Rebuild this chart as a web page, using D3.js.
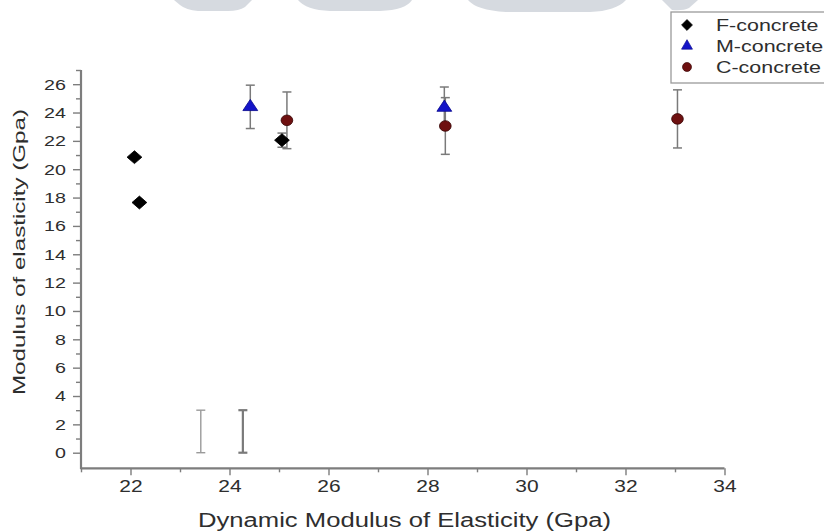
<!DOCTYPE html>
<html>
<head>
<meta charset="utf-8">
<script src="https://cdn.jsdelivr.net/npm/d3@7"></script>
<style>
  html, body { margin: 0; padding: 0; background: #fff; }
  svg { display: block; }
  text { font-family: "Liberation Sans", Arial, sans-serif; fill: #2e2e2e; }
</style>
</head>
<body>
<svg id="chart" width="824" height="531"></svg>
<script>
// ---------------- data ----------------
const seriesNames = ["F-concrete", "M-concrete", "C-concrete"];
const fX = [22.08, 22.18, 25.06];
const fY = [20.85, 17.65, 22.05];
const fErr = [0, 0, 0.5];
const mX = [24.42, 28.34];
const mY = [24.4, 24.35];
const mErr = [1.53, 1.45];
const cX = [25.16, 28.36, 33.05];
const cY = [23.45, 23.05, 23.55];
const cErr = [2.0, 2.0, 2.05];
// error bars drawn without a marker (as in the source figure)
const strayX = [23.42, 24.27];
const strayY = [1.5, 1.5];
const strayErr = [1.5, 1.5];
const xMajorTicks = [22, 24, 26, 28, 30, 32, 34];
const xMinorTicks = [21, 23, 25, 27, 29, 31, 33];
const yMajorTicks = [0, 2, 4, 6, 8, 10, 12, 14, 16, 18, 20, 22, 24, 26];
const yMinorTicks = [1, 3, 5, 7, 9, 11, 13, 15, 17, 19, 21, 23, 25, 27];
const xTitle = "Dynamic Modulus of Elasticity (Gpa)";
const yTitle = "Modulus of elasticity (Gpa)";

// ---------------- layout ----------------
const svg = d3.select("#chart");
const axisColor = "#7d7d7d";
const errColor = "#7a7a7a";
const colors = { F: "#000000", M: "#1414c8", C: "#6e1010" };
const stretch = 1.27;

const x = d3.scaleLinear().domain([21, 34]).range([81, 724.5]);
const y = d3.scaleLinear().domain([-1.1, 27]).range([468.3, 70]);

// faint watermark remnants at the top edge
const wm = svg.append("g").attr("fill", "#d6dae0");
wm.append("path").attr("d", "M174,0 L252,0 L245,7 Q239,11 228,11 L198,11 Q186,10 180,5 Z");
wm.append("path").attr("d", "M298,0 L412,0 Q406,10 380,11 L330,11 Q306,10 298,0 Z");
wm.append("path").attr("d", "M468,0 L626,0 Q616,11 590,12 L506,12 Q476,10 468,0 Z");
wm.append("path").attr("d", "M662,0 L698,0 L689,8 Q683,11 672,10 Z");

// ---------------- axes ----------------
const xAxisMajor = d3.axisBottom(x).tickValues(xMajorTicks).tickSize(7).tickFormat(d3.format("d")).tickPadding(4);
const xAxisMinor = d3.axisBottom(x).tickValues(xMinorTicks).tickSize(4).tickFormat("");
const yAxisMajor = d3.axisLeft(y).tickValues(yMajorTicks).tickSize(8).tickFormat(d3.format("d")).tickPadding(7);
const yAxisMinor = d3.axisLeft(y).tickValues(yMinorTicks).tickSize(5).tickFormat("");

function styleAxis(g) {
  g.select(".domain").remove();
  g.selectAll(".tick line").attr("stroke", axisColor).attr("stroke-width", 1.4);
}

const gx = svg.append("g").attr("transform", `translate(0,${y.range()[0]})`);
gx.append("g").call(xAxisMinor).call(styleAxis);
const gxm = gx.append("g").call(xAxisMajor).call(styleAxis);
gxm.selectAll(".tick text")
  .attr("font-size", 16.5).attr("fill", "#333")
  .attr("font-family", "Liberation Sans, Arial, sans-serif")
  .attr("transform", `scale(${stretch},1)`)
  .attr("x", 0)
  .attr("y", 12)
  .attr("dy", "0.71em");

const gy = svg.append("g").attr("transform", `translate(${x.range()[0]},0)`);
gy.append("g").call(yAxisMinor).call(styleAxis);
const gym = gy.append("g").call(yAxisMajor).call(styleAxis);
gym.selectAll(".tick text")
  .attr("font-size", 15.5).attr("fill", "#333")
  .attr("font-family", "Liberation Sans, Arial, sans-serif")
  .attr("x", -15 / stretch)
  .attr("transform", `scale(${stretch},1)`);

// axis lines (drawn on top of ticks)
svg.append("line")
  .attr("x1", x.range()[0]).attr("x2", x.range()[1])
  .attr("y1", y.range()[0]).attr("y2", y.range()[0])
  .attr("stroke", axisColor).attr("stroke-width", 2.2);
svg.append("line")
  .attr("x1", x.range()[0]).attr("x2", x.range()[0])
  .attr("y1", y.range()[1]).attr("y2", y.range()[0] + 1)
  .attr("stroke", axisColor).attr("stroke-width", 2.2);

// axis titles
svg.append("text")
  .attr("transform", `translate(404.5,527)`)
  .attr("text-anchor", "middle")
  .attr("font-size", 19.5)
  .attr("fill", "#2a2a2a")
  .attr("textLength", 413)
  .attr("lengthAdjust", "spacingAndGlyphs")
  .text(xTitle);

svg.append("text")
  .attr("transform", `translate(25,252) rotate(-90)`)
  .attr("text-anchor", "middle")
  .attr("font-size", 17)
  .attr("fill", "#2a2a2a")
  .attr("textLength", 286)
  .attr("lengthAdjust", "spacingAndGlyphs")
  .text(yTitle);

// ---------------- error bars ----------------
function errorBars(xs, ys, es, color, width) {
  const g = svg.append("g").attr("stroke", color).attr("stroke-width", width).attr("fill", "none");
  xs.forEach((xv, i) => {
    if (!es[i]) return;
    const cx = x(xv), top = y(ys[i] + es[i]), bot = y(ys[i] - es[i]);
    g.append("line").attr("x1", cx).attr("x2", cx).attr("y1", top).attr("y2", bot);
    g.append("line").attr("x1", cx - 4.5).attr("x2", cx + 4.5).attr("y1", top).attr("y2", top);
    g.append("line").attr("x1", cx - 4.5).attr("x2", cx + 4.5).attr("y1", bot).attr("y2", bot);
  });
}
errorBars(strayX.slice(0, 1), strayY.slice(0, 1), strayErr.slice(0, 1), "#9a9a9a", 1.4);
errorBars(strayX.slice(1), strayY.slice(1), strayErr.slice(1), "#7a7a7a", 2.2);
errorBars(cX, cY, cErr, errColor, 1.5);
errorBars(mX, mY, mErr, errColor, 1.5);
errorBars(fX, fY, fErr, errColor, 1.5);

// ---------------- markers ----------------
const diamond = d3.symbol().type(d3.symbolDiamond2 || d3.symbolDiamond).size(105);
const triangle = d3.symbol().type(d3.symbolTriangle).size(72);
const circle = d3.symbol().type(d3.symbolCircle).size(88);

function markers(xs, ys, sym, fill, stroke, sx) {
  svg.append("g").selectAll("path").data(xs).join("path")
    .attr("d", sym)
    .attr("transform", (d, i) => `translate(${x(d)},${y(ys[i])}) scale(${sx},1)`)
    .attr("fill", fill).attr("stroke", stroke).attr("stroke-width", 0.8);
}
markers(cX, cY, circle, colors.C, "#3a0606", 1.1);
markers(mX, mY, triangle, colors.M, "#0b0b90", 1.15);
markers(fX, fY, diamond, colors.F, "#000", 1.15);

// ---------------- legend ----------------
const lg = svg.append("g");
lg.append("rect").attr("x", 671).attr("y", 12).attr("width", 170).attr("height", 71)
  .attr("fill", "#fff").attr("stroke", "#9a9a9a").attr("stroke-width", 1.3);
const legendSyms = [
  { sym: diamond, fill: colors.F, stroke: "#000" },
  { sym: triangle, fill: colors.M, stroke: "#0b0b90" },
  { sym: circle, fill: colors.C, stroke: "#3a0606" }
];
seriesNames.forEach((name, i) => {
  const cy = 25 + i * 21;
  lg.append("path").attr("d", legendSyms[i].sym)
    .attr("transform", `translate(687,${cy}) scale(0.85)`)
    .attr("fill", legendSyms[i].fill).attr("stroke", legendSyms[i].stroke).attr("stroke-width", 0.8);
  lg.append("text")
    .attr("transform", `translate(716,${cy + 6}) scale(1.3,1)`)
    .attr("font-size", 16.5)
    .attr("fill", "#2a2a2a")
    .text(name);
});
</script>
</body>
</html>
